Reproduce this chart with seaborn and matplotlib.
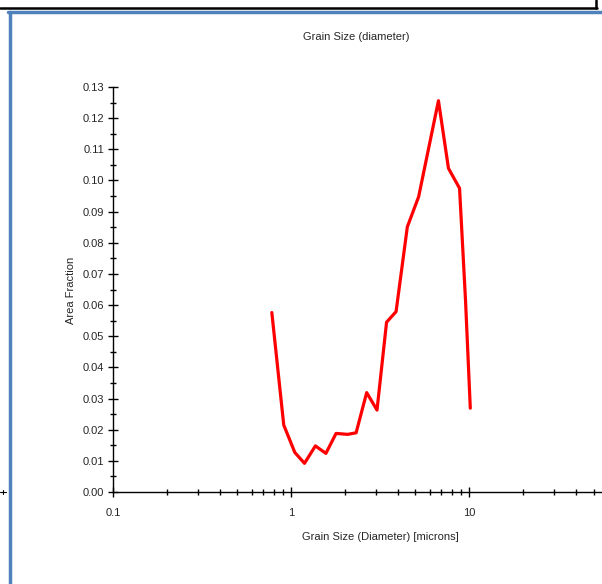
import pandas as pd
import seaborn as sns
import matplotlib.pyplot as plt
from matplotlib.lines import Line2D
from matplotlib.ticker import MultipleLocator, LogLocator, FixedLocator, FixedFormatter

# grain size distribution
grain_size = [0.78, 0.91, 1.05, 1.19, 1.37, 1.57, 1.79, 2.08, 2.32, 2.66, 3.04,
              3.44, 3.89, 4.50, 5.21, 6.73, 7.66, 8.84, 9.55, 10.16]
area_fraction = [0.0576, 0.0215, 0.0127, 0.0092, 0.0148, 0.0124, 0.0188, 0.0185,
                 0.0190, 0.0319, 0.0263, 0.0545, 0.0579, 0.0851, 0.0948, 0.1256,
                 0.1039, 0.0975, 0.0616, 0.0269]
x_ticks = [0.1, 1, 10]
x_tick_labels = ["0.1", "1", "10"]

data = pd.DataFrame({"size": grain_size, "frac": area_fraction})

sns.set_style("white")
plt.rcParams["font.family"] = ["Liberation Sans", "DejaVu Sans"]

fig = plt.figure(figsize=(6.02, 5.84), dpi=100)
ax = fig.add_axes([113 / 602, 92 / 584, 489 / 602, 405 / 584])

sns.lineplot(data=data, x="size", y="frac", color="#ff0000", linewidth=2.3,
             sort=False, estimator=None, ax=ax)

ax.set_xscale("log")
ax.set_xlim(0.1, 55.8)
ax.set_ylim(0, 0.13)

ax.yaxis.set_major_locator(MultipleLocator(0.01))
ax.yaxis.set_minor_locator(MultipleLocator(0.005))
ax.yaxis.set_major_formatter(plt.FuncFormatter(lambda v, p: f"{v:.2f}"))
ax.xaxis.set_major_locator(FixedLocator(x_ticks))
ax.xaxis.set_major_formatter(FixedFormatter(x_tick_labels))
ax.xaxis.set_minor_locator(LogLocator(base=10, subs=range(2, 10)))

for s in ["top", "right"]:
    ax.spines[s].set_visible(False)
for s in ["left", "bottom"]:
    ax.spines[s].set_color("black")
    ax.spines[s].set_linewidth(1.0)

ax.tick_params(which="both", direction="inout", color="black", width=1.0,
               left=True, bottom=True, labelsize=8)
ax.tick_params(which="major", length=7)
ax.tick_params(which="minor", length=5)
ax.tick_params(axis="x", which="major", pad=8)
ax.tick_params(axis="y", which="major", pad=3)

ax.set_xlabel("Grain Size (Diameter) [microns]", fontsize=8)
ax.set_ylabel("Area Fraction", fontsize=8)
ax.xaxis.set_label_coords((380 - 113) / 489, -(532 - 492) / 405)
ax.yaxis.set_label_coords(-(113 - 76) / 489, (492 - 290) / 405)

fig.text(356 / 602, 1 - 37 / 584, "Grain Size (diameter)", fontsize=8,
         ha="center", va="center")

# window frame around the chart
def px(x, y):
    return x / 602, 1 - y / 584

fig.add_artist(Line2D(*zip(px(0, 8), px(597, 8)), color="black", lw=1.8))
fig.add_artist(Line2D(*zip(px(596, 0), px(596, 8)), color="black", lw=1.8))
fig.add_artist(Line2D(*zip(px(8, 12), px(602, 12)), color="#4f81bd", lw=2.5))
fig.add_artist(Line2D(*zip(px(9.5, 12), px(9.5, 584)), color="#4f81bd", lw=2.5))
fig.add_artist(Line2D(*zip(px(0, 492), px(6, 492)), color="black", lw=0.8))
fig.add_artist(Line2D(*zip(px(3, 490), px(3, 494)), color="black", lw=0.8))

fig.savefig("out.png", dpi=100)
